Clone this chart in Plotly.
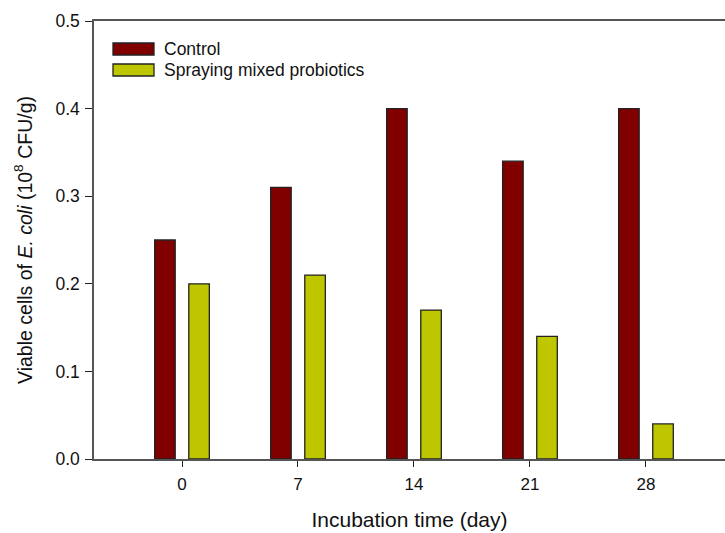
import plotly.graph_objects as go

days = [0, 7, 14, 21, 28]
tick_labels = ["0", "7", "14", "21", "28"]
series_names = ["Control", "Spraying mixed probiotics"]
control = [0.25, 0.31, 0.40, 0.34, 0.40]
spraying = [0.20, 0.21, 0.17, 0.14, 0.04]
colors = ["#800000", "#BEC600"]

W, H = 725, 533
ml, mr, mt, mb = 94, 0, 21, 74
pw, ph = W - ml - mr, H - mt - mb

fig = go.Figure()
bar_w = 1.24
offsets = [-1.03 - bar_w / 2, 1.03 - bar_w / 2]
for name, vals, col, off in zip(series_names, [control, spraying], colors, offsets):
    fig.add_trace(go.Bar(
        x=days, y=vals, name=name, width=bar_w, offset=off,
        marker=dict(color=col, line=dict(color="#222222", width=1.3)),
        showlegend=False,
    ))

# custom legend (wide boxes like the original)
def px_x(p):
    return (p - ml) / pw

def px_y(p):
    return (H - mb - p) / ph

row_centers = [49, 70]
for name, col, yc in zip(series_names, colors, row_centers):
    fig.add_shape(type="rect", xref="paper", yref="paper",
                  x0=px_x(113), x1=px_x(154), y0=px_y(yc + 6), y1=px_y(yc - 6),
                  fillcolor=col, line=dict(color="#222222", width=1.3), layer="above")
    fig.add_annotation(text=name, xref="paper", yref="paper", x=px_x(162), y=px_y(yc),
                       xanchor="left", yanchor="middle", showarrow=False,
                       font=dict(size=17.5, color="#111111"))

axis_col = "#555555"
fig.update_xaxes(
    range=[(ml - 182) / 16.57, (W - mr - 182) / 16.57],
    tickmode="array", tickvals=days, ticktext=tick_labels,
    showline=True, linecolor=axis_col, linewidth=1.5, mirror=True,
    ticks="outside", ticklen=6, tickwidth=1.3, tickcolor="#222222",
    ticklabelstandoff=3,
    showgrid=False, zeroline=False,
    tickfont=dict(size=17, color="#111111"),
    title=dict(text="Incubation time (day)", font=dict(size=21, color="#111111"), standoff=19),
)
fig.update_yaxes(
    range=[0, 0.5], tickmode="array", tickvals=[0, 0.1, 0.2, 0.3, 0.4, 0.5],
    ticktext=["0.0", "0.1", "0.2", "0.3", "0.4", "0.5"],
    showline=True, linecolor=axis_col, linewidth=1.5, mirror=False,
    ticks="outside", ticklen=7, tickwidth=1.3, tickcolor="#222222",
    ticklabelstandoff=2,
    showgrid=False, zeroline=False,
    tickfont=dict(size=17.5, color="#111111"),
    title=dict(text="Viable cells of <i>E. coli</i> (10<sup>8</sup> CFU/g)",
               font=dict(size=19.5, color="#111111"), standoff=18),
)
fig.update_layout(
    width=W, height=H, margin=dict(l=ml, r=mr, t=mt, b=mb, autoexpand=False),
    plot_bgcolor="white", paper_bgcolor="white",
    font=dict(family="Liberation Sans, Arial, sans-serif"),
    showlegend=False,
)
fig.write_html("out.html")
